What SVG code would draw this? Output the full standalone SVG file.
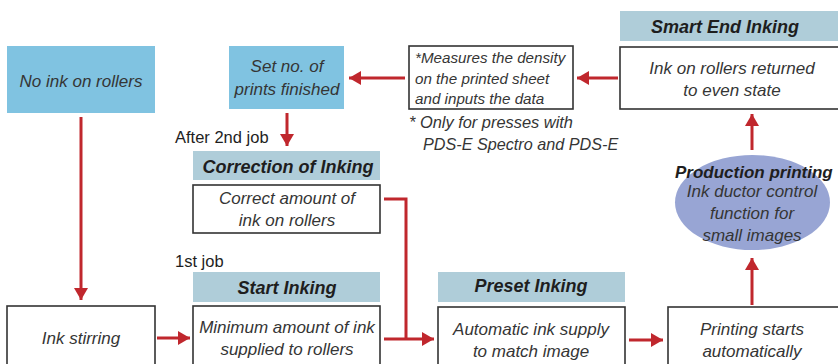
<svg xmlns="http://www.w3.org/2000/svg" width="838" height="364" viewBox="0 0 838 364">
<style>
.t{font-family:"Liberation Sans",Arial,sans-serif;font-style:italic;font-size:17px;fill:#353535;text-anchor:middle}
.s{font-family:"Liberation Sans",Arial,sans-serif;font-style:italic;fill:#353535;text-anchor:start}
.h{font-family:"Liberation Sans",Arial,sans-serif;font-style:italic;font-weight:bold;font-size:18px;fill:#1e1e1e;text-anchor:middle}
.p{font-family:"Liberation Sans",Arial,sans-serif;font-size:16.5px;fill:#1e1e1e}
.box{fill:#fff;stroke:#333;stroke-width:1.6}
.blue{fill:#80c3e1}
.hd{fill:#afcdd9}
.c{stroke:#c0272d;stroke-width:3;fill:none}
</style>
<defs>
<marker id="ah" markerUnits="userSpaceOnUse" markerWidth="14" markerHeight="14" refX="12" refY="7" orient="auto">
<path d="M0,0 L12,7 L0,14 Z" fill="#c0272d"/>
</marker>
</defs>
<g id="connectors">
<line class="c" x1="81" y1="117" x2="81" y2="300" marker-end="url(#ah)"/>
<line class="c" x1="157" y1="338" x2="190" y2="338" marker-end="url(#ah)"/>
<polyline class="c" points="384,199 406,199 406,339"/>
<line class="c" x1="384" y1="339" x2="434" y2="339" marker-end="url(#ah)"/>
<line class="c" x1="629" y1="340" x2="663" y2="340" marker-end="url(#ah)"/>
<line class="c" x1="752" y1="305" x2="752" y2="258" marker-end="url(#ah)"/>
<line class="c" x1="752" y1="150" x2="752" y2="114" marker-end="url(#ah)"/>
<line class="c" x1="618" y1="78" x2="577" y2="78" marker-end="url(#ah)"/>
<line class="c" x1="405" y1="78" x2="349" y2="78" marker-end="url(#ah)"/>
<line class="c" x1="287" y1="113" x2="287" y2="146" marker-end="url(#ah)"/>
</g>
<g id="no-ink">
<rect class="blue" x="7" y="46" width="148" height="67"/>
<text class="t" x="81" y="87">No ink on rollers</text>
</g>
<g id="set-prints">
<rect class="blue" x="229" y="46" width="115" height="63"/>
<text class="t" x="287" y="72">Set no. of</text>
<text class="t" x="287" y="95">prints finished</text>
</g>
<g id="measures">
<rect class="box" x="409" y="46" width="164" height="63"/>
<text class="s" x="415" y="63" style="font-size:15.2px">*Measures the density</text>
<text class="s" x="415" y="84" style="font-size:15.2px">on the printed sheet</text>
<text class="s" x="415" y="104" style="font-size:15.2px">and inputs the data</text>
<text class="s" x="409" y="128" style="font-size:16.4px">* Only for presses with</text>
<text class="s" x="423" y="150" style="font-size:16.2px">PDS-E Spectro and PDS-E</text>
</g>
<g id="smart-end">
<rect class="hd" x="620" y="11" width="218" height="30"/>
<text class="h" x="725" y="33">Smart End Inking</text>
<rect class="box" x="620" y="47" width="220" height="62"/>
<text class="t" x="732" y="74">Ink on rollers returned</text>
<text class="t" x="732" y="96">to even state</text>
</g>
<g id="correction">
<text class="p" x="175" y="143">After 2nd job</text>
<rect class="hd" x="193" y="151" width="187" height="29"/>
<text class="h" x="288" y="173">Correction of Inking</text>
<rect class="box" x="193" y="185" width="187" height="48"/>
<text class="t" x="287" y="204">Correct amount of</text>
<text class="t" x="287" y="226">ink on rollers</text>
</g>
<g id="start-inking">
<text class="p" x="175" y="267">1st  job</text>
<rect class="hd" x="193" y="272" width="187" height="30"/>
<text class="h" x="287" y="294">Start Inking</text>
<rect class="box" x="193" y="306" width="187" height="70"/>
<text class="t" x="287" y="333">Minimum amount of ink</text>
<text class="t" x="287" y="355">supplied to rollers</text>
</g>
<g id="ink-stirring">
<rect class="box" x="7" y="306" width="148" height="70"/>
<text class="t" x="81" y="344">Ink stirring</text>
</g>
<g id="preset">
<rect class="hd" x="438" y="272" width="187" height="30"/>
<text class="h" x="531" y="292">Preset Inking</text>
<rect class="box" x="438" y="307" width="187" height="70"/>
<text class="t" x="531" y="335">Automatic ink supply</text>
<text class="t" x="531" y="357">to match image</text>
</g>
<g id="printing-starts">
<rect class="box" x="668" y="307" width="172" height="70"/>
<text class="t" x="752" y="335">Printing starts</text>
<text class="t" x="752" y="357">automatically</text>
</g>
<g id="production">
<ellipse cx="752.5" cy="202.5" rx="77.5" ry="47.5" fill="#98a5d4"/>
<text class="h" x="675" y="178" style="font-size:17px;text-anchor:start">Production printing</text>
<text class="t" x="752" y="197">Ink ductor control</text>
<text class="t" x="752" y="219">function for</text>
<text class="t" x="752" y="241">small images</text>
</g>
</svg>
